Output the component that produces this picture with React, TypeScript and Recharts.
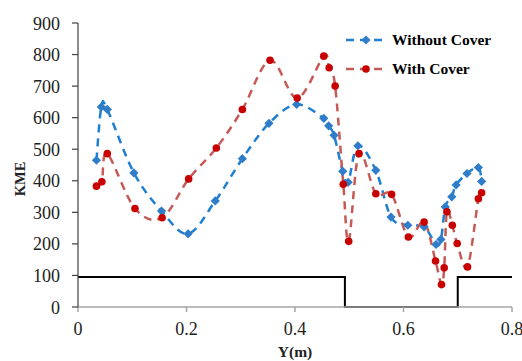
import { LineChart, Line, XAxis, YAxis, Legend, Label } from 'recharts'

const FONT = "'Liberation Serif', 'Times New Roman', serif"

// Without Cover
const bareX = [0.034, 0.043, 0.054, 0.103, 0.154, 0.203, 0.253, 0.303, 0.352, 0.403, 0.453, 0.462, 0.472, 0.488, 0.498, 0.516, 0.549, 0.577, 0.608, 0.638, 0.66, 0.669, 0.677, 0.689, 0.697, 0.717, 0.738, 0.744]
const bareKme = [465, 634, 626, 425, 304, 232, 336, 470, 582, 642, 598, 574, 544, 430, 395, 511, 433, 285, 259, 254, 198, 214, 317, 349, 387, 423, 442, 398]

// With Cover
const coverX = [0.034, 0.044, 0.054, 0.105, 0.155, 0.204, 0.255, 0.303, 0.354, 0.404, 0.453, 0.463, 0.474, 0.489, 0.499, 0.518, 0.549, 0.578, 0.609, 0.638, 0.659, 0.67, 0.675, 0.68, 0.69, 0.699, 0.718, 0.738, 0.744]
const coverKme = [383, 397, 486, 312, 283, 406, 504, 626, 782, 662, 795, 758, 700, 389, 208, 486, 359, 357, 222, 269, 146, 71, 124, 302, 259, 201, 127, 343, 362]

// channel bed profile
const bedX = [0, 0.492, 0.492, 0.7, 0.7, 0.8]
const bedY = [95, 95, 0, 0, 95, 95]

const xTicks = [0, 0.2, 0.4, 0.6, 0.8]
const yTicks = [0, 100, 200, 300, 400, 500, 600, 700, 800, 900]

const toRows = (xs: number[], ys: number[]) => xs.map((x, i) => ({ x, y: ys[i] }))

const bareData = toRows(bareX, bareKme)
const coverData = toRows(coverX, coverKme)
const bedData = toRows(bedX, bedY)

const BLUE_LINE = '#1f7fd0'
const BLUE_DOT = '#2f7dc9'
const RED_LINE = '#c55a57'
const RED_DOT = '#c80000'

// Catmull-Rom style smoothing (spreadsheet "smoothed line")
function smoothCurve(context: any) {
  let pts: number[][] = []
  return {
    areaStart() {},
    areaEnd() {},
    lineStart() {
      pts = []
    },
    point(x: number, y: number) {
      pts.push([+x, +y])
    },
    lineEnd() {
      const n = pts.length
      if (!n) return
      context.moveTo(pts[0][0], pts[0][1])
      for (let i = 0; i < n - 1; i++) {
        const p0 = pts[i - 1] || pts[i]
        const p1 = pts[i]
        const p2 = pts[i + 1]
        const p3 = pts[i + 2] || p2
        context.bezierCurveTo(
          p1[0] + (p2[0] - p0[0]) / 6,
          p1[1] + (p2[1] - p0[1]) / 6,
          p2[0] - (p3[0] - p1[0]) / 6,
          p2[1] - (p3[1] - p1[1]) / 6,
          p2[0],
          p2[1]
        )
      }
    },
  }
}

const Diamond = (props: any) => {
  const { cx, cy, index } = props
  if (cx == null || cy == null) return <g key={`d-${index}`} />
  const r = 4.6
  return (
    <path
      key={`d-${index}`}
      d={`M${cx},${cy - r}L${cx + r},${cy}L${cx},${cy + r}L${cx - r},${cy}Z`}
      fill={BLUE_DOT}
    />
  )
}

const Dot = (props: any) => {
  const { cx, cy, index } = props
  if (cx == null || cy == null) return <g key={`c-${index}`} />
  return <circle key={`c-${index}`} cx={cx} cy={cy} r={3.8} fill={RED_DOT} />
}

const XTick = (props: any) => {
  const { x, y, payload } = props
  return (
    <text x={x} y={y + 21} textAnchor="middle" fontFamily={FONT} fontSize={18} fill="#222">
      {payload.value}
    </text>
  )
}

const YTick = (props: any) => {
  const { x, y, payload } = props
  return (
    <text x={x} y={y + 6.5} textAnchor="end" fontFamily={FONT} fontSize={18} fill="#222">
      {payload.value}
    </text>
  )
}

const legendRows = [
  { name: 'Without Cover', line: BLUE_LINE, marker: 'diamond' },
  { name: 'With Cover', line: RED_LINE, marker: 'circle' },
]

const renderLegend = () => (
  <div style={{ fontFamily: FONT, fontWeight: 'bold', fontSize: 15.5, color: '#000' }}>
    {legendRows.map((row) => (
      <div key={row.name} style={{ display: 'flex', alignItems: 'center', height: 29 }}>
        <svg width={44} height={12} style={{ marginRight: 4 }}>
          <line x1={2} y1={6} x2={42} y2={6} stroke={row.line} strokeWidth={2.5} strokeDasharray="8 6" />
          {row.marker === 'diamond' ? (
            <path d="M22,1.4L26.6,6L22,10.6L17.4,6Z" fill={BLUE_DOT} />
          ) : (
            <circle cx={22} cy={6} r={3.8} fill={RED_DOT} />
          )}
        </svg>
        <span>{row.name}</span>
      </div>
    ))}
  </div>
)

export default function App() {
  return (
    <div style={{ position: 'absolute', left: 0, top: 0, background: '#fff' }}>
      <LineChart width={522} height={361} margin={{ top: 23, right: 10, left: 0, bottom: 0 }}>
        <XAxis
          type="number"
          dataKey="x"
          domain={[0, 0.8]}
          ticks={xTicks}
          interval={0}
          allowDataOverflow
          height={54}
          stroke="#a6a6a6"
          strokeWidth={1.5}
          tickSize={5}
          tickMargin={2}
          tick={<XTick />}
        >
          <Label
            content={() => (
              <text x={295} y={357} textAnchor="middle" fontFamily={FONT} fontWeight="bold" fontSize={15.5} fill="#222">
                Y(m)
              </text>
            )}
          />
        </XAxis>
        <YAxis
          type="number"
          domain={[0, 900]}
          ticks={yTicks}
          interval={0}
          width={78}
          stroke="#404040"
          strokeWidth={1.2}
          tickSize={6}
          tickMargin={12}
          tick={<YTick />}
        >
          <Label
            content={() => (
              <text
                x={25}
                y={179}
                transform="rotate(-90, 25, 179)"
                textAnchor="middle"
                fontFamily={FONT}
                fontWeight="bold"
                fontSize={14.5}
                fill="#222"
              >
                KME
              </text>
            )}
          />
        </YAxis>
        <Legend
          content={renderLegend}
          layout="horizontal"
          align="center"
          verticalAlign="middle"
          wrapperStyle={{ left: 344, top: 25, width: 170 }}
        />
        <Line
          data={bedData}
          dataKey="y"
          type="linear"
          stroke="#000"
          strokeWidth={2}
          dot={false}
          activeDot={false}
          isAnimationActive={false}
          legendType="none"
        />
        <Line
          data={bareData}
          dataKey="y"
          name="Without Cover"
          type={smoothCurve as any}
          stroke={BLUE_LINE}
          strokeWidth={2.5}
          strokeDasharray="8 6"
          dot={Diamond}
          activeDot={false}
          isAnimationActive={false}
        />
        <Line
          data={coverData}
          dataKey="y"
          name="With Cover"
          type={smoothCurve as any}
          stroke={RED_LINE}
          strokeWidth={2.5}
          strokeDasharray="8 6"
          dot={Dot}
          activeDot={false}
          isAnimationActive={false}
        />
      </LineChart>
    </div>
  )
}
